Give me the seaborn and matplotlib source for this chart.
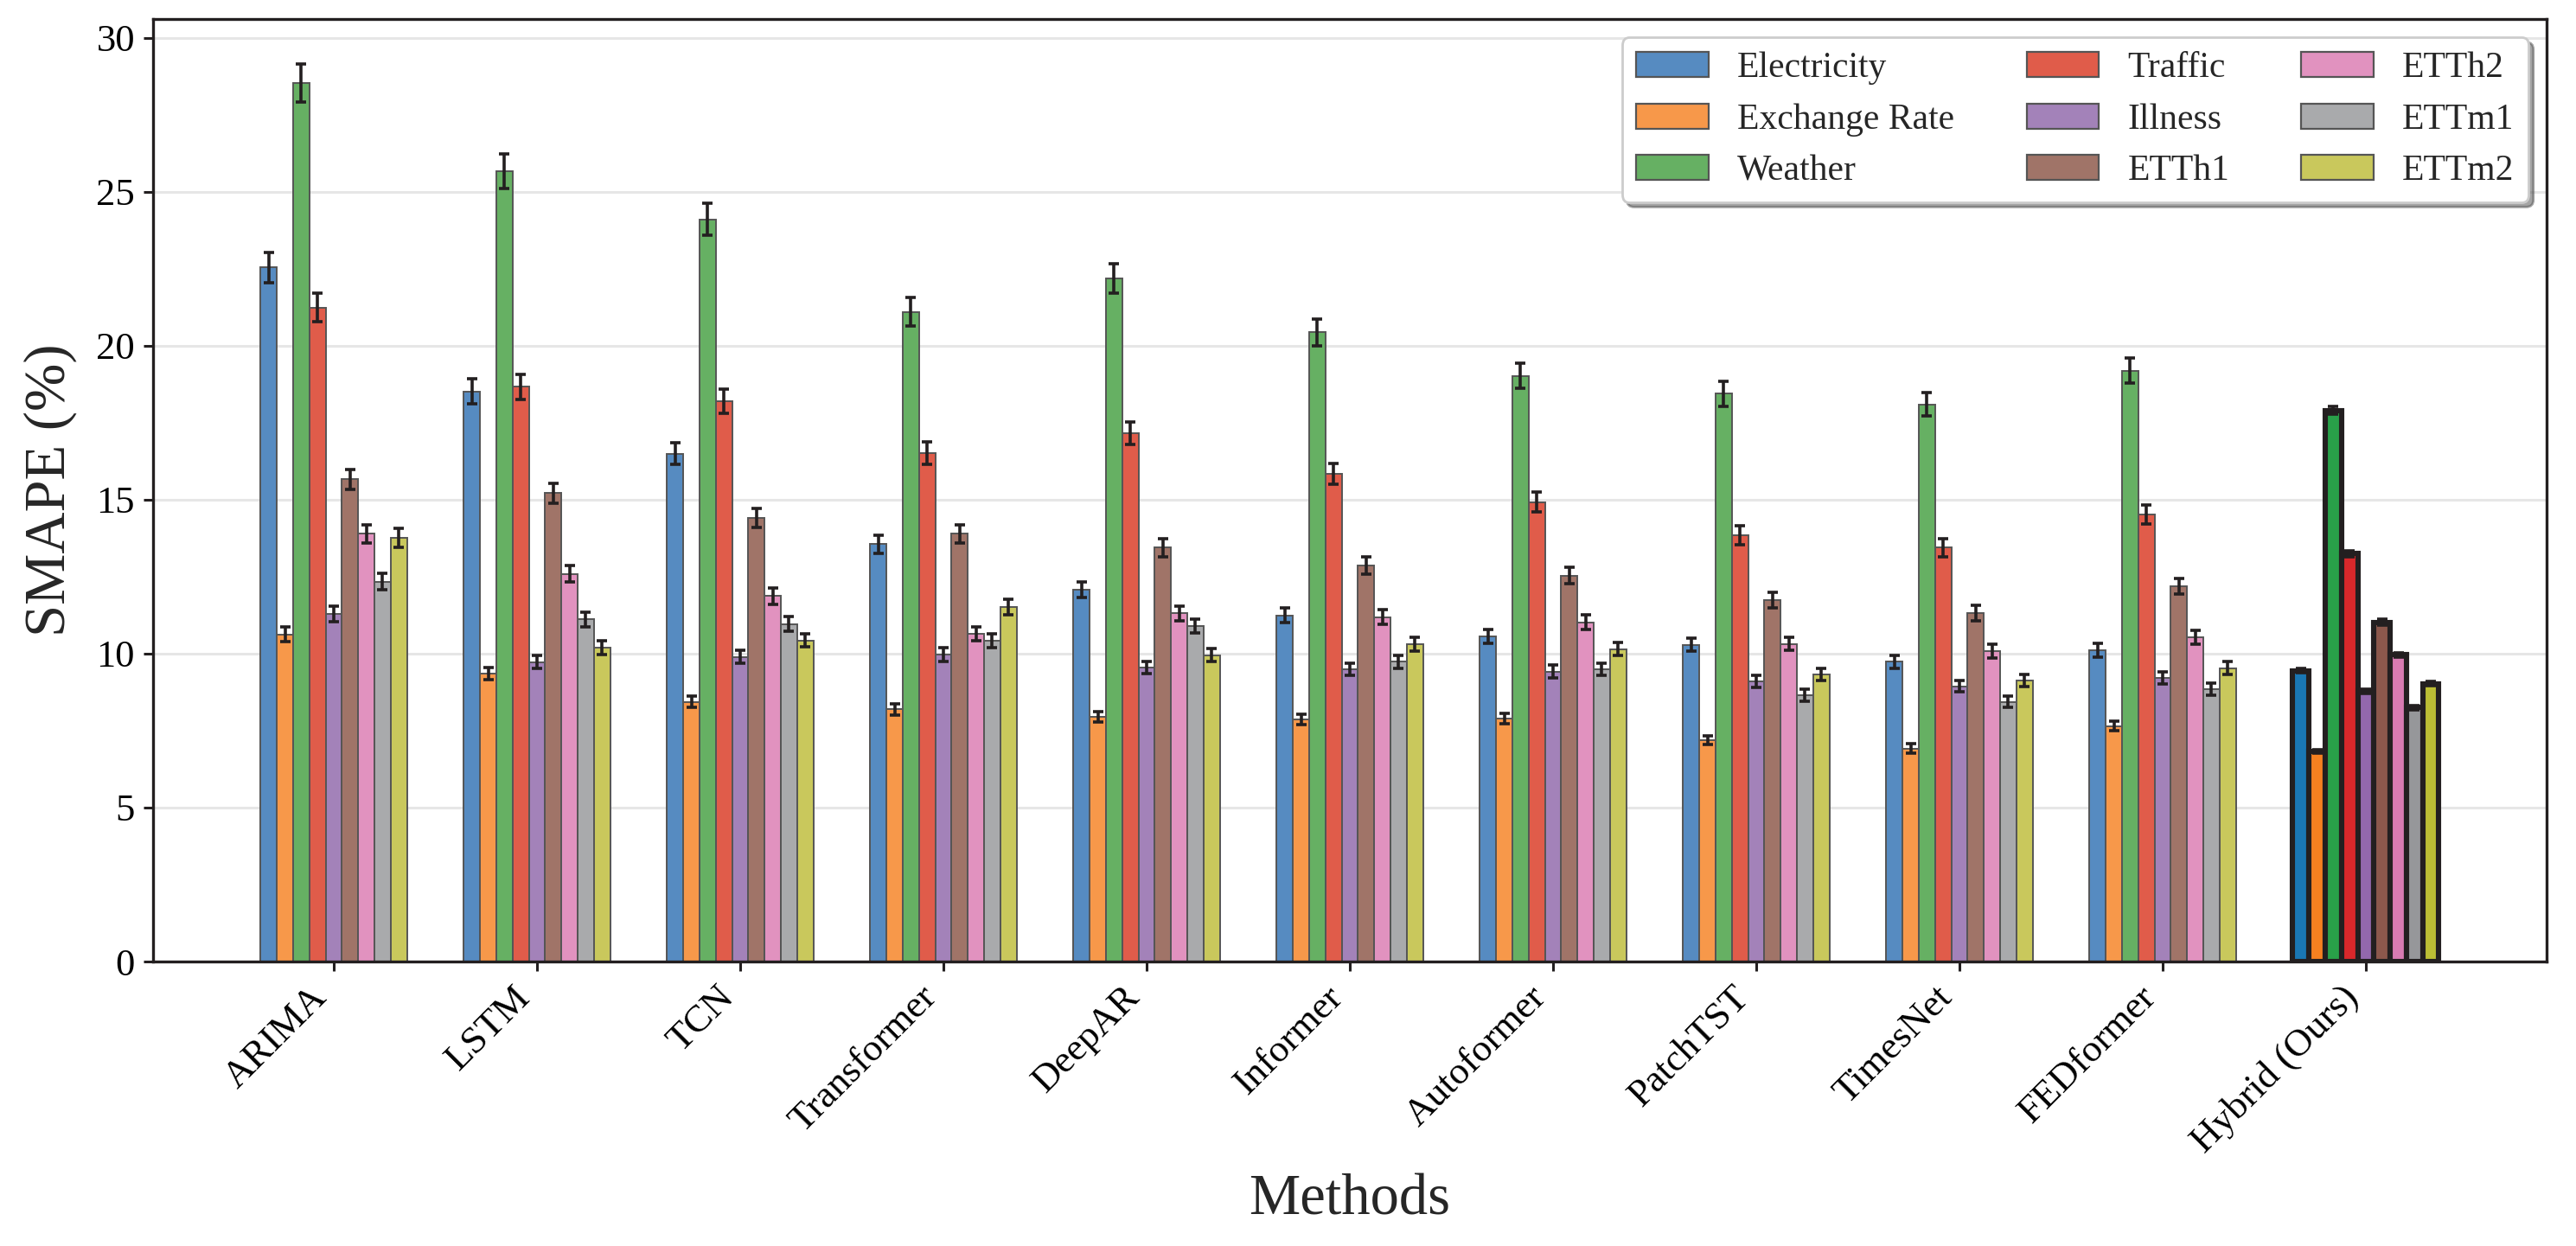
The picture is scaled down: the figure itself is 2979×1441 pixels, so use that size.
import numpy as np
import pandas as pd
import seaborn as sns
import matplotlib
matplotlib.use("Agg")
import matplotlib.pyplot as plt
from matplotlib.patches import Patch
from matplotlib.container import BarContainer

methods = ["ARIMA", "LSTM", "TCN", "Transformer", "DeepAR", "Informer",
           "Autoformer", "PatchTST", "TimesNet", "FEDformer", "Hybrid (Ours)"]
datasets = ["Electricity", "Exchange Rate", "Weather", "Traffic", "Illness",
            "ETTh1", "ETTh2", "ETTm1", "ETTm2"]

electricity = [22.54, 18.52, 16.50, 13.56, 12.08, 11.24, 10.56, 10.29, 9.74, 10.11, 9.45]
exchange = [10.63, 9.35, 8.43, 8.19, 7.95, 7.87, 7.90, 7.19, 6.92, 7.65, 6.82]
weather = [28.54, 25.67, 24.11, 21.10, 22.18, 20.44, 19.02, 18.44, 18.10, 19.19, 17.90]
traffic = [21.24, 18.67, 18.19, 16.52, 17.16, 15.85, 14.92, 13.85, 13.44, 14.53, 13.25]
illness = [11.29, 9.73, 9.89, 9.98, 9.55, 9.50, 9.42, 9.10, 8.94, 9.21, 8.78]
etth1 = [15.66, 15.21, 14.42, 13.89, 13.44, 12.87, 12.53, 11.74, 11.32, 12.19, 11.02]
etth2 = [13.89, 12.59, 11.87, 10.65, 11.31, 11.18, 11.02, 10.32, 10.08, 10.53, 9.96]
ettm1 = [12.34, 11.11, 10.96, 10.42, 10.89, 9.74, 9.50, 8.65, 8.44, 8.85, 8.25]
ettm2 = [13.76, 10.20, 10.43, 11.52, 9.95, 10.31, 10.15, 9.32, 9.13, 9.53, 9.02]

electricity_err = [0.48, 0.40, 0.36, 0.30, 0.26, 0.24, 0.23, 0.22, 0.21, 0.22, 0.08]
exchange_err = [0.23, 0.20, 0.18, 0.18, 0.17, 0.17, 0.17, 0.15, 0.15, 0.16, 0.06]
weather_err = [0.62, 0.55, 0.52, 0.46, 0.48, 0.44, 0.41, 0.40, 0.39, 0.41, 0.13]
traffic_err = [0.46, 0.40, 0.39, 0.36, 0.37, 0.34, 0.32, 0.30, 0.29, 0.31, 0.10]
illness_err = [0.24, 0.21, 0.21, 0.22, 0.21, 0.20, 0.20, 0.20, 0.19, 0.20, 0.07]
etth1_err = [0.33, 0.33, 0.31, 0.30, 0.29, 0.28, 0.27, 0.25, 0.24, 0.26, 0.09]
etth2_err = [0.30, 0.27, 0.26, 0.23, 0.24, 0.24, 0.24, 0.22, 0.22, 0.23, 0.08]
ettm1_err = [0.26, 0.24, 0.24, 0.23, 0.23, 0.21, 0.20, 0.19, 0.18, 0.19, 0.07]
ettm2_err = [0.30, 0.22, 0.22, 0.25, 0.21, 0.22, 0.22, 0.20, 0.20, 0.21, 0.07]

values = [electricity, exchange, weather, traffic, illness, etth1, etth2, ettm1, ettm2]
errors = [electricity_err, exchange_err, weather_err, traffic_err, illness_err,
          etth1_err, etth2_err, ettm1_err, ettm2_err]

regular_colors = ["#568bc1", "#f7984a", "#66b063", "#e05c4a", "#a382b9",
                  "#a07468", "#e192bf", "#a9aaac", "#c9c85c"]
hybrid_colors = ["#1a77b4", "#f58020", "#29a049", "#d8282b", "#9368ad",
                 "#8c584c", "#d87bb2", "#96979a", "#bcbe35"]

rows = []
for d, vals in zip(datasets, values):
    for m, v in zip(methods, vals):
        rows.append({"Method": m, "Dataset": d, "SMAPE": v})
df = pd.DataFrame(rows)

sns.set_style("ticks")
plt.rcParams["font.family"] = ["Liberation Serif", "DejaVu Serif"]
plt.rcParams["axes.edgecolor"] = "#231f20"
plt.rcParams["axes.linewidth"] = 1.2

fig = plt.figure(figsize=(14.895, 7.205), dpi=200)
ax = fig.add_axes([0.0594, 0.2283, 0.9292, 0.7561])

sns.barplot(data=df, x="Method", y="SMAPE", hue="Dataset", order=methods,
            hue_order=datasets, palette=regular_colors, width=0.72, gap=0,
            errorbar=None, edgecolor="#555555", linewidth=0.7, saturation=1,
            legend=False, ax=ax, zorder=2)

bar_containers = [c for c in ax.containers if isinstance(c, BarContainer)]
for i, cont in enumerate(bar_containers):
    xs = [p.get_x() + p.get_width() / 2 for p in cont.patches]
    hs = [p.get_height() for p in cont.patches]
    last = cont.patches[-1]
    last.set_facecolor(hybrid_colors[i])
    last.set_edgecolor("#231f20")
    last.set_linewidth(2.2)
    last.set_zorder(3)
    ax.errorbar(xs, hs, yerr=errors[i], fmt="none", ecolor="#231f20",
                elinewidth=1.3, capsize=2.2, capthick=1.3, zorder=4)

ax.set_xlim(-0.89, 10.89)
ax.set_ylim(0, 30.6)
ax.set_yticks([0, 5, 10, 15, 20, 25, 30])
ax.yaxis.grid(True, color="#e6e6e6", linewidth=1.1, zorder=0)
ax.set_axisbelow(True)
for s in ax.spines.values():
    s.set_visible(True)
    s.set_color("#231f20")
    s.set_linewidth(1.2)
ax.tick_params(axis="both", direction="out", length=4, width=1.1,
               labelsize=16, colors="#231f20", labelcolor="black")
plt.setp(ax.get_xticklabels(), rotation=45, ha="right")
ax.set_xlabel("Methods", fontsize=24, labelpad=6)
ax.set_ylabel("SMAPE (%)", fontsize=24, labelpad=8)

handles = [Patch(facecolor=c, edgecolor="#555555", linewidth=0.8, label=d)
           for c, d in zip(regular_colors, datasets)]
leg = ax.legend(handles=handles, ncol=3, loc="upper right", fontsize=15,
                frameon=True, fancybox=True, shadow=True, framealpha=1,
                edgecolor="#cccccc")
leg.get_frame().set_linewidth(1.0)

fig.savefig("out.png", dpi=200)
